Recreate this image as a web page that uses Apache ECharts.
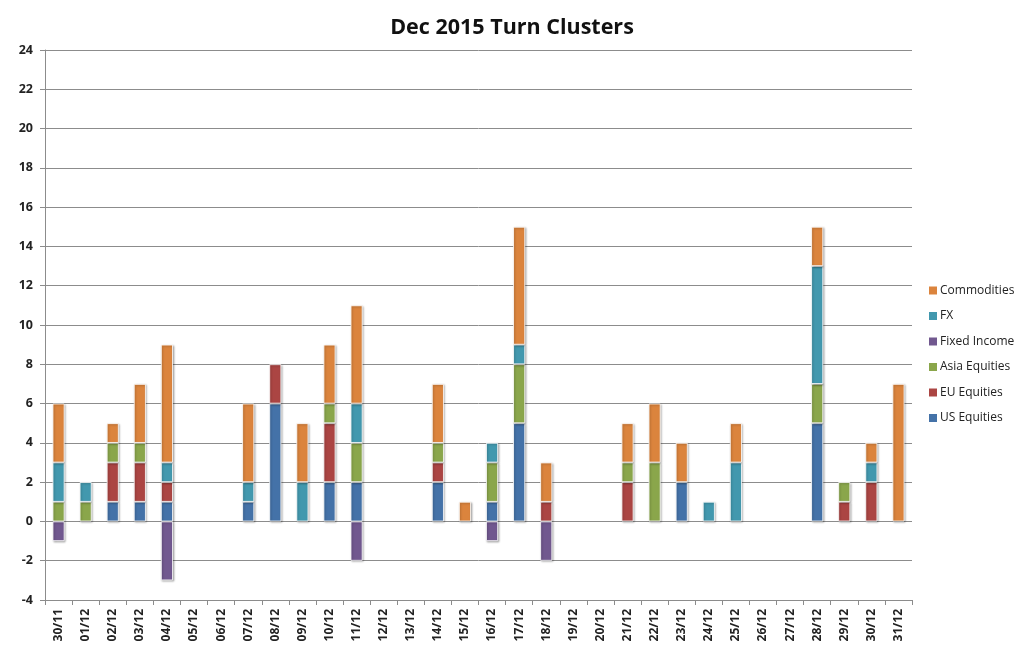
<!DOCTYPE html>
<html>
<head>
<meta charset="utf-8">
<title>Dec 2015 Turn Clusters</title>
<script src="https://cdn.jsdelivr.net/npm/echarts@6/dist/echarts.min.js"></script>
<style>
  html, body { margin: 0; padding: 0; background: #fff; }
  #chart { width: 1024px; height: 656px; }
</style>
</head>
<body>
<div id="chart"></div>
<script>
var categories = ['30/11','01/12','02/12','03/12','04/12','05/12','06/12','07/12','08/12','09/12','10/12',
  '11/12','12/12','13/12','14/12','15/12','16/12','17/12','18/12','19/12','20/12','21/12','22/12','23/12',
  '24/12','25/12','26/12','27/12','28/12','29/12','30/12','31/12'];

var usEquities   = [null,null,1,1,1,null,null,1,6,null,2,2,null,null,2,null,1,5,null,null,null,null,null,2,null,null,null,null,5,null,null,null];
var euEquities   = [null,null,2,2,1,null,null,null,2,null,3,null,null,null,1,null,null,null,1,null,null,2,null,null,null,null,null,null,null,1,2,null];
var asiaEquities = [1,1,1,1,null,null,null,null,null,null,1,2,null,null,1,null,2,3,null,null,null,1,3,null,null,null,null,null,2,1,null,null];
var fixedIncome  = [-1,null,null,null,-3,null,null,null,null,null,null,-2,null,null,null,null,-1,null,-2,null,null,null,null,null,null,null,null,null,null,null,null,null];
var fx           = [2,1,null,null,1,null,null,1,null,2,null,2,null,null,null,null,1,1,null,null,null,null,null,null,1,3,null,null,6,null,1,null];
var commodities  = [3,null,1,3,6,null,null,4,null,3,3,5,null,null,3,1,null,6,2,null,null,2,3,2,null,2,null,null,2,null,1,7];

var seriesNames = ['US Equities','EU Equities','Asia Equities','Fixed Income','FX','Commodities'];
var seriesValues = [usEquities, euEquities, asiaEquities, fixedIncome, fx, commodities];
var seriesColors = ['#4472a8','#ab4543','#8aa64b','#71588f','#4298ae','#db843d'];
var legendOrder = ['Commodities','FX','Fixed Income','Asia Equities','EU Equities','US Equities'];

var chart = echarts.init(document.getElementById('chart'));
chart.setOption({
  animation: false,
  backgroundColor: '#fff',
  color: seriesColors,
  title: {
    text: 'Dec 2015 Turn Clusters',
    left: 507,
    top: 12,
    textAlign: 'center',
    textStyle: { fontFamily: 'Open Sans', fontSize: 21.5, fontWeight: 'bold', color: '#111' }
  },
  legend: {
    orient: 'vertical',
    left: 924,
    top: 278,
    itemWidth: 8,
    itemHeight: 8,
    itemGap: 10.5,
    icon: 'rect',
    data: legendOrder,
    itemStyle: { borderWidth: 0, shadowBlur: 0, shadowOffsetX: 0, shadowOffsetY: 0 },
    textStyle: { fontFamily: 'Open Sans', fontSize: 12, color: '#222', padding: [0, 0, 0, -2], lineHeight: 15 }
  },
  grid: { left: 45, right: 112, top: 50, bottom: 56 },
  xAxis: {
    type: 'category',
    data: categories,
    axisLine: { onZero: false, lineStyle: { color: '#8c8c8c' } },
    axisTick: { show: true, alignWithLabel: false, length: 5, lineStyle: { color: '#8c8c8c' } },
    axisLabel: { interval: 0, rotate: 90, margin: 9, fontFamily: 'Open Sans', fontSize: 12, fontWeight: 'bold', color: '#222' }
  },
  yAxis: {
    type: 'value',
    min: -4,
    max: 24,
    interval: 2,
    axisLine: { show: true, lineStyle: { color: '#8c8c8c' } },
    axisTick: { show: true, length: 5, lineStyle: { color: '#8c8c8c' } },
    axisLabel: { margin: 12, fontFamily: 'Open Sans', fontSize: 12.5, fontWeight: 'bold', color: '#222' },
    splitLine: { lineStyle: { color: '#8c8c8c', width: 1 } }
  },
  series: seriesNames.map(function (name, i) {
    return {
      name: name,
      type: 'bar',
      stack: 'turns',
      barWidth: 12,
      data: seriesValues[i],
      itemStyle: {
        color: seriesColors[i],
        borderColor: '#fff',
        borderWidth: 0.8,
        shadowBlur: 2,
        shadowColor: 'rgba(0,0,0,0.3)',
        shadowOffsetX: 1,
        shadowOffsetY: 1
      }
    };
  })
});
</script>
</body>
</html>
